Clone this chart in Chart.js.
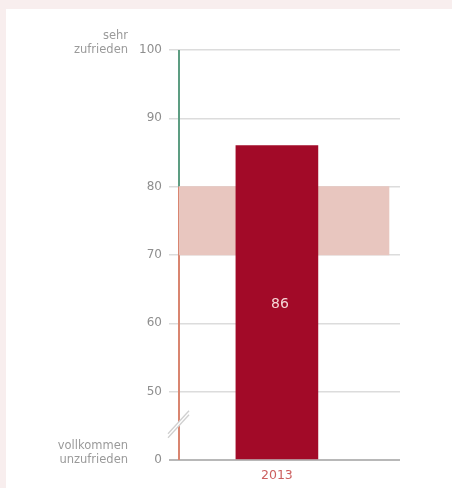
<!DOCTYPE html>
<html>
<head>
<meta charset="utf-8">
<script src="https://cdn.jsdelivr.net/npm/chart.js@4"></script>
<style>
 html,body{margin:0;padding:0;background:#fff;overflow:hidden;}
 body{border-top:9px solid #f8eeee;border-left:6px solid #f8eeee;}
 canvas{display:block;}
</style>
</head>
<body>
<canvas id="chart" width="446" height="479"></canvas>
<script>
const years=["2013"];
const scores=[86];
const targetRange=[70,80];
const yTicks=[0,50,60,70,80,90,100];
const topLabel=["sehr","zufrieden"];
const bottomLabel=["vollkommen","unzufrieden"];

/* axis is broken between 0 and 50 */
const BREAK=50;
function brk(v){return v<BREAK?40+v/5:v;}
function unbrk(d){return d<BREAK?(d-40)*5:d;}

const BAR_X=0.443;
const BAND_X=0.475;
const FONT="'DejaVu Sans', sans-serif";

const decor={
 id:"decor",
 beforeDatasetsDraw(chart){
  const {ctx,chartArea:a,scales:{y}}=chart;
  ctx.save();
  ctx.lineWidth=2;
  ctx.strokeStyle="#5d9d82";
  ctx.beginPath();ctx.moveTo(a.left,y.getPixelForValue(brk(100)));ctx.lineTo(a.left,y.getPixelForValue(brk(80)));ctx.stroke();
  ctx.strokeStyle="#d98570";
  ctx.beginPath();ctx.moveTo(a.left,y.getPixelForValue(brk(80)));ctx.lineTo(a.left,y.getPixelForValue(brk(0)));ctx.stroke();
  ctx.restore();
 },
 afterDraw(chart){
  const {ctx,chartArea:a,scales:{y}}=chart;
  ctx.save();
  // break marks
  const cx=a.left,cy=y.getPixelForValue(45.3);
  ctx.fillStyle="#fff";
  ctx.beginPath();
  ctx.moveTo(cx-11,cy+10);ctx.lineTo(cx+10,cy-13);ctx.lineTo(cx+10,cy-9);ctx.lineTo(cx-11,cy+14);
  ctx.closePath();ctx.fill();
  ctx.strokeStyle="#d0d0d0";ctx.lineWidth=1.3;
  ctx.beginPath();ctx.moveTo(cx-11,cy+10);ctx.lineTo(cx+10,cy-13);ctx.stroke();
  ctx.beginPath();ctx.moveTo(cx-11,cy+14);ctx.lineTo(cx+10,cy-9);ctx.stroke();

  // end labels
  ctx.font="11.5px "+FONT;
  ctx.fillStyle="#9a9a9a";
  ctx.textAlign="right";ctx.textBaseline="middle";
  const lx=a.left-51;
  const yt=y.getPixelForValue(brk(100));
  ctx.fillText(topLabel[0],lx,yt-14);
  ctx.fillText(topLabel[1],lx,yt);
  const yb=y.getPixelForValue(brk(0));
  ctx.fillText(bottomLabel[0],lx,yb-14);
  ctx.fillText(bottomLabel[1],lx,yb);

  // value label inside bar
  const bar=chart.getDatasetMeta(1).data[0];
  ctx.font="14px "+FONT;
  ctx.fillStyle="#f6d6d6";
  ctx.textAlign="center";
  ctx.fillText(String(scores[0]),bar.x+3,(bar.y+bar.base)/2+2);
  ctx.restore();
 }
};

new Chart(document.getElementById("chart"),{
 type:"bar",
 data:{
  datasets:[
   {
    data:[{x:BAND_X,y:[brk(targetRange[0]),brk(targetRange[1])]}],
    backgroundColor:"#e8c6bf",
    barThickness:210,
    grouped:false,
    order:2
   },
   {
    data:scores.map((s,i)=>({x:BAR_X+i,y:brk(s)})),
    backgroundColor:"#a20a28",
    barThickness:82,
    base:brk(0),
    grouped:false,
    order:1
   }
  ]
 },
 options:{
  responsive:false,
  animation:false,
  layout:{padding:{top:41,right:52,left:0,bottom:0}},
  plugins:{legend:{display:false},tooltip:{enabled:false}},
  scales:{
   x:{
    type:"linear",min:0,max:1,offset:false,
    grid:{display:false},
    border:{display:false},
    afterBuildTicks:s=>{s.ticks=years.map((yr,i)=>({value:BAR_X+i}));},
    afterFit:s=>{s.height=28;},
    ticks:{
     autoSkip:false,maxRotation:0,padding:0,
     color:"#cc5f5f",font:{family:FONT,size:12.5},
     callback:(v,i)=>years[i]
    }
   },
   y:{
    min:40,max:100,
    border:{display:false},
    afterBuildTicks:s=>{s.ticks=yTicks.map(t=>({value:brk(t)}));},
    afterFit:s=>{s.width=173;},
    grid:{
     color:c=>c.tick&&c.tick.value===40?"#b8b8b8":"#dcdcdc",
     lineWidth:c=>c.tick&&c.tick.value===40?2:1.5,
     tickLength:10
    },
    ticks:{
     padding:7,color:"#8e8e8e",font:{family:FONT,size:12},
     callback:v=>String(unbrk(v))
    }
   }
  }
 },
 plugins:[decor]
});
</script>
</body>
</html>
